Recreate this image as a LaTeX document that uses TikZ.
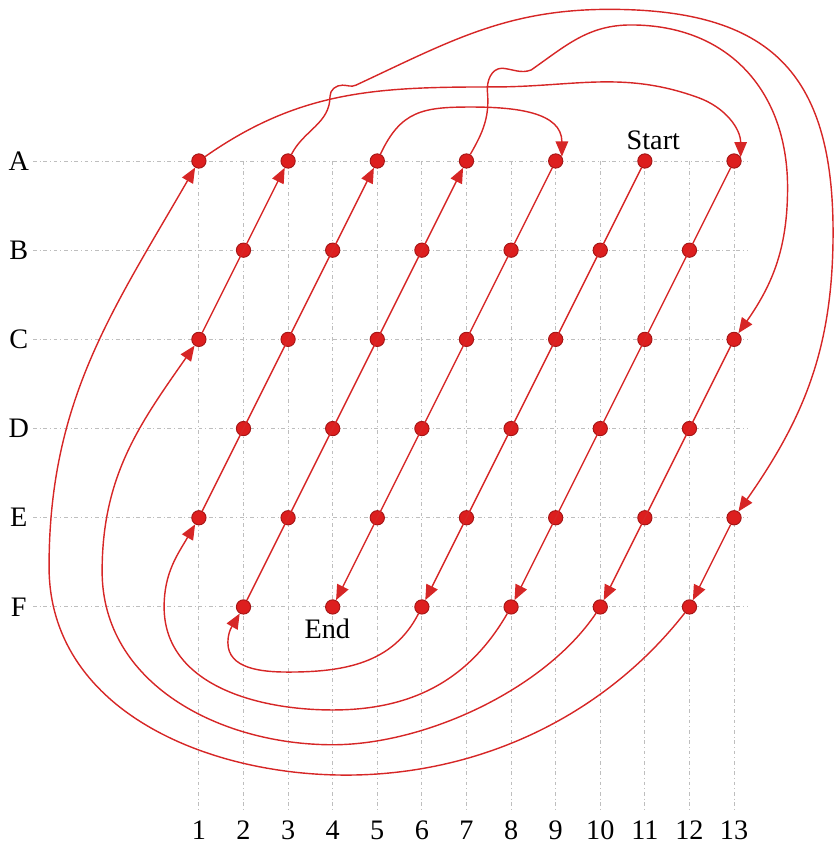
\documentclass[tikz,border=0pt]{standalone}
\usepackage{fontspec}
\setmainfont{Liberation Serif}
\usetikzlibrary{arrows.meta}
\definecolor{pathred}{RGB}{214,38,38}
\definecolor{dotred}{RGB}{221,30,30}
\definecolor{dotrim}{RGB}{165,22,22}
\definecolor{gridgray}{RGB}{190,190,190}
\begin{document}
\begin{tikzpicture}[font=\fontsize{18}{20}\selectfont,
  gridline/.style={gridgray, line width=0.6pt, dash pattern=on 2.4pt off 1.8pt on 0.6pt off 1.8pt},
  stopdot/.style={circle, fill=dotred, draw=dotrim, line width=0.6pt, inner sep=0pt, minimum size=0.32cm},
  hop/.style={pathred, line width=0.9pt, -{Triangle[length=0.34cm, width=0.28cm]}}]
  \useasboundingbox (-3.46,-5.45) rectangle (15.28,13.61);
  \foreach \y in {0,2,...,10} \draw[gridline] (-2.72,\y) -- (13.29,\y);
  \foreach \c in {1,...,13} {
    \draw[gridline] (\c,10) -- (\c,-4.6);
    \node (n\c) at (\c,-5.0) {\c};}
  \foreach \r/\y in {A/10,B/8,C/6,D/4,E/2,F/0} {
    \node (l\r) at (-3.04,\y) {\r};
    \foreach \c in {1,...,13} {
      \pgfmathtruncatemacro\parity{mod(\c+\y/2,2)}
      \ifnum\parity=0 \node[stopdot] (\r\c) at (\c,\y) {}; \fi}}
  \node (start) at (11.19,10.46) {Start};
  \node (end) at (3.88,-0.49) {End};

  \draw[hop] (A11) -- (F6);
  \draw[hop] (F6) to[out=243,in=0] (3,-1.46) to[out=180,in=-90] (1.65,-0.8) to[out=90,in=240] (F2);
  \draw[hop] (F2) -- (A7);
  \draw[hop] (A7) to[out=60,in=-85] (7.47,11.55) to[out=95,in=180] (7.8,12.08)
    to[out=-5,in=200] (8.45,12.04) to[out=35,in=180] (10.69,13.05)
    to[out=0,in=90,looseness=1.1] (14.2,9.4) to[out=-90,in=55] (C13);
  \draw[hop] (C13) -- (F10);
  \draw[hop] (F10) to[out=236,in=0,looseness=0.8] (4,-3.09) to[out=180,in=-90] (-1.17,0.8) to[out=90,in=235] (C1);
  \draw[hop] (C1) -- (A3);
  \draw[hop] (A3) to[out=63,in=-90] (3.94,11.45) to[out=90,in=180] (4.22,11.7)
    to[out=0,in=205] (4.52,11.7) to[out=25,in=180] (10.2,13.4)
    to[out=0,in=90,looseness=1.3] (15.22,8.4) to[out=-90,in=55] (E13);
  \draw[hop] (E13) -- (F12);
  \draw[hop] (F12) to[out=232,in=0,looseness=0.9] (4.3,-3.77) to[out=180,in=-90] (-2.36,0.9) to[out=90,in=240] (A1);
  \draw[hop] (A1) to[out=35,in=180] (7.6,11.66) to[out=0,in=160] (12.2,11.42) to[out=-20,in=90] (A13.30);
  \draw[hop] (A13) -- (F8);
  \draw[hop] (F8) to[out=240,in=0] (4,-2.31) to[out=180,in=-90] (0.22,0) to[out=90,in=240] (E1);
  \draw[hop] (E1) -- (A5);
  \draw[hop] (A5) to[out=65,in=180,looseness=1.2] (7.1,11.21) to[out=0,in=90,looseness=1.1] (A9.35);
  \draw[hop] (A9) -- (F4);
\end{tikzpicture}
\end{document}
